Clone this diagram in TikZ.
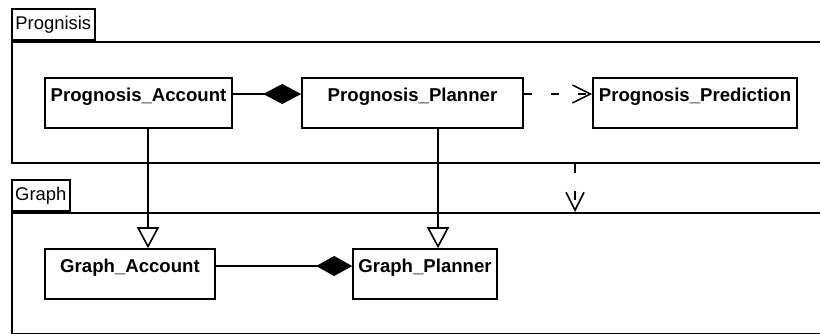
\documentclass[tikz,border=0pt]{standalone}
\usepackage{fontspec}
\setmainfont{Liberation Sans}
\usetikzlibrary{arrows.meta}
\begin{document}
\begin{tikzpicture}[x=1pt,y=-1pt,
  box/.style={draw, line width=1.6pt, rectangle, inner sep=0pt, fill=white},
  cname/.style={font=\fontsize{18.6}{21}\selectfont\bfseries, anchor=base, inner sep=0pt},
  pkg/.style={draw, line width=1.6pt, rectangle, inner sep=0pt},
  ptab/.style={pkg, font=\fontsize{18.4}{21}\selectfont},
  comp/.style={line width=1.6pt, -{Diamond[length=#1,width=20pt]}},
  gen/.style={line width=1.6pt, -{Triangle[open, length=21pt, width=22pt, fill=white]}},
  dep/.style={line width=1.6pt, dash pattern=on 8pt off 19pt, -{Straight Barb[length=18pt,width=18pt]}}
]
\useasboundingbox (0,0) rectangle (820,333);
% packages
\node[pkg, anchor=north west, minimum width=830pt, minimum height=121pt] (Pbody) at (11,41) {};
\node[ptab, anchor=south west, minimum width=83pt, minimum height=31pt] (Ptab) at (11,41) {Prognisis};
\node[pkg, anchor=north west, minimum width=830pt, minimum height=120.5pt] (Gbody) at (11,212) {};
\node[ptab, anchor=south west, minimum width=58pt, minimum height=31pt] (Gtab) at (11,212) {Graph};
% classes
\node[box, minimum width=187pt, minimum height=50pt] (pa) at (138.5,103) {};
\node[cname] (paN) at ([yshift=-24pt]pa.north) {Prognosis\_Account};
\node[box, minimum width=221pt, minimum height=50pt] (pp) at (412.5,103) {};
\node[cname] (ppN) at ([yshift=-24pt]pp.north) {Prognosis\_Planner};
\node[box, minimum width=204pt, minimum height=50pt] (pd) at (695,103) {};
\node[cname] (pdN) at ([yshift=-24pt]pd.north) {Prognosis\_Prediction};
\node[box, minimum width=170pt, minimum height=50pt] (ga) at (130,274) {};
\node[cname] (gaN) at ([yshift=-24pt]ga.north) {Graph\_Account};
\node[box, minimum width=144pt, minimum height=50pt] (gp) at (425,274) {};
\node[cname] (gpN) at ([yshift=-24pt]gp.north) {Graph\_Planner};
% guide coordinates
\coordinate (x1) at (148,0);
\coordinate (x2) at (438,0);
\coordinate (x3) at (575,0);
% connectors
\draw[comp=38pt] ([yshift=9pt]pa.east) -- ([yshift=9pt]pp.west);
\draw[comp=36pt] ([yshift=8pt]ga.east) -- ([yshift=8pt]gp.west);
\draw[dep] ([yshift=9pt]pp.east) -- ([yshift=9pt]pd.west);
\draw[gen] (pa.south -| x1) -- (ga.north -| x1);
\draw[gen] (pp.south -| x2) -- (gp.north -| x2);
\draw[dep, dash pattern=on 9pt off 18pt] (Pbody.south -| x3) -- (Gbody.north -| x3);
\end{tikzpicture}
\end{document}
